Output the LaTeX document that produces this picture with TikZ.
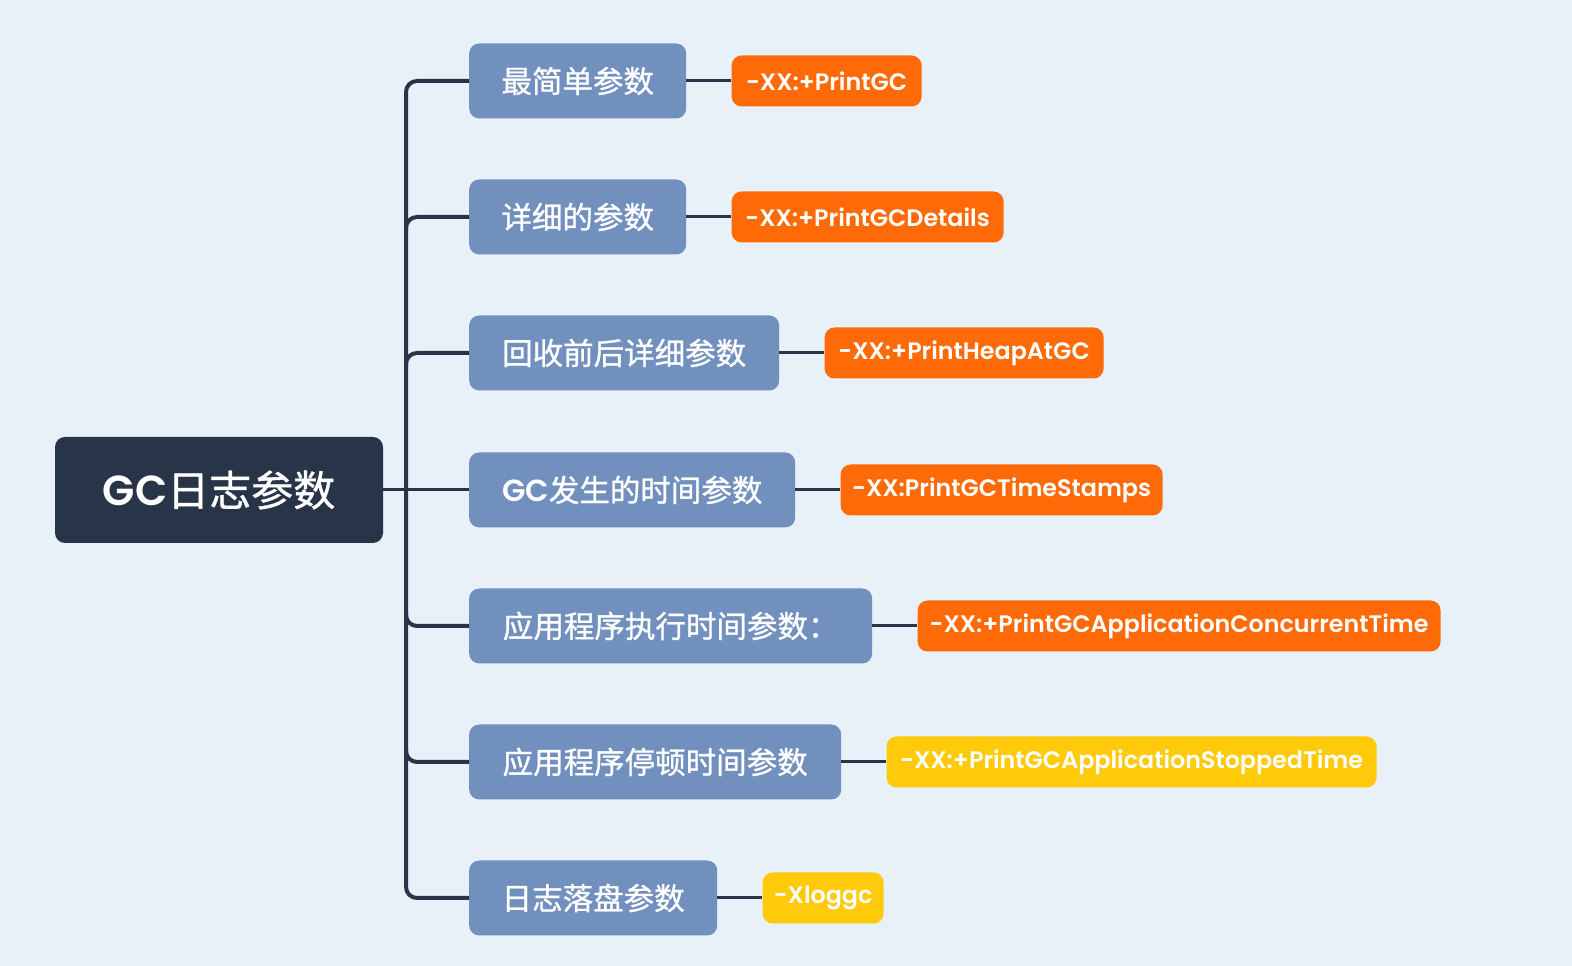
\documentclass[tikz,border=0pt]{standalone}
\usepackage{fontspec}
\setmainfont{Noto Sans CJK SC}
\newfontfamily\cjk{Noto Sans CJK SC}[FakeBold=1]
\newfontfamily\lat{Poppins SemiBold}
\newfontfamily\latb{Poppins SemiBold}
\definecolor{bg}{HTML}{E8F0F8}
\definecolor{rootc}{HTML}{283548}
\definecolor{childc}{HTML}{7290BE}
\definecolor{orangec}{HTML}{FF6A08}
\definecolor{yellowc}{HTML}{FFCA0A}
\definecolor{linec}{HTML}{283548}
\tikzset{
  rootbox/.style={fill=rootc, text=white, rounded corners=10pt, minimum width=328pt, minimum height=106pt, inner sep=0pt, font=\fontsize{42}{50}\selectfont},
  childbox/.style={fill=childc, text=white, rounded corners=10pt, minimum height=75pt, inner sep=0pt, anchor=west, font=\fontsize{30.5}{36}\selectfont},
  leafbox/.style={text=white, rounded corners=10pt, minimum height=51pt, inner sep=0pt, anchor=west, font=\fontsize{23.8}{28}\latb},
  orangeleaf/.style={leafbox, fill=orangec},
  yellowleaf/.style={leafbox, fill=yellowc},
  trunk/.style={draw=linec, line width=4pt, rounded corners=11pt},
  twig/.style={draw=linec, line width=3pt},
}
\begin{document}
\begin{tikzpicture}[x=1pt,y=1pt]
\useasboundingbox (0,0) rectangle (1572,966);
\fill[bg] (0,0) rectangle (1572,966);
% root
\node[rootbox] (root) at (219,476) {\lat GC\cjk 日志参数};
% children
\node[childbox, minimum width=217pt] (c1) at (469,885) {\cjk 最简单参数};
\node[childbox, minimum width=217pt] (c2) at (469,749) {\cjk 详细的参数};
\node[childbox, minimum width=310pt] (c3) at (469,613) {\cjk 回收前后详细参数};
\node[childbox, minimum width=326pt] (c4) at (469,476) {\lat GC\cjk 发生的时间参数};
\node[childbox, minimum width=403pt] (c5) at (469,340) {\cjk 应用程序执行时间参数：};
\node[childbox, minimum width=372pt] (c6) at (469,204) {\cjk 应用程序停顿时间参数};
\node[childbox, minimum width=248pt] (c7) at (469,68) {\cjk 日志落盘参数};
% leaves
\node[orangeleaf, minimum width=190pt] (l1) at ([xshift=45pt]c1.east) {-XX:+PrintGC};
\node[orangeleaf, minimum width=272pt] (l2) at ([xshift=45pt]c2.east) {-XX:+PrintGCDetails};
\node[orangeleaf, minimum width=279pt] (l3) at ([xshift=45pt]c3.east) {-XX:+PrintHeapAtGC};
\node[orangeleaf, minimum width=322pt] (l4) at ([xshift=45pt]c4.east) {-XX:PrintGCTimeStamps};
\node[orangeleaf, minimum width=523pt] (l5) at ([xshift=45pt]c5.east) {-XX:+PrintGCApplicationConcurrentTime};
\node[yellowleaf, minimum width=490pt] (l6) at ([xshift=45pt]c6.east) {-XX:+PrintGCApplicationStoppedTime};
\node[yellowleaf, minimum width=121pt] (l7) at ([xshift=45pt]c7.east) {-Xloggc};
% trunk
\coordinate (tr) at (406,476);
\draw[trunk] (c1.west) -| (tr) |- (c7.west);
\draw[trunk] ([yshift=-14pt]tr|-c2.west) |- (c2.west);
\draw[trunk] ([yshift=-14pt]tr|-c3.west) |- (c3.west);
\draw[trunk] ([yshift=14pt]tr|-c5.west) |- (c5.west);
\draw[trunk] ([yshift=14pt]tr|-c6.west) |- (c6.west);
\draw[twig] (root.east) -- (c4.west);
% leaf links
\foreach \i in {1,...,7} \draw[twig] (c\i.east) -- (l\i.west);
\end{tikzpicture}
\end{document}
